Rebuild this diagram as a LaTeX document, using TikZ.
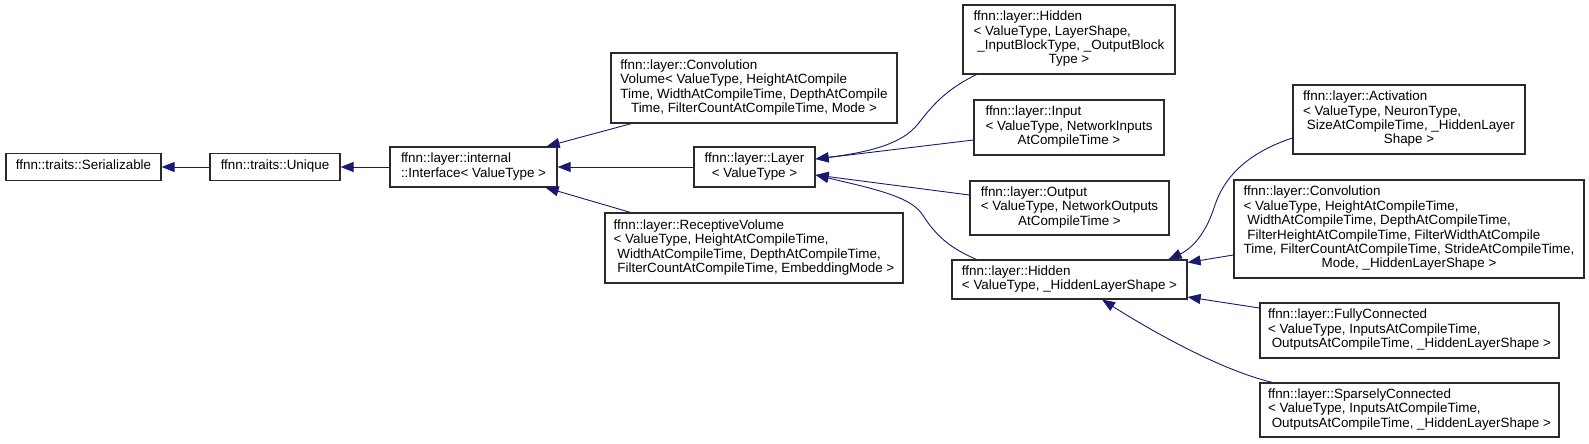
\documentclass[tikz,border=0pt]{standalone}
\usepackage{fontspec}
\setmainfont{Liberation Sans}
\usepackage{xcolor}
\definecolor{midnight}{HTML}{191970}
\definecolor{ink}{HTML}{2A2A2A}
\usetikzlibrary{arrows.meta}
\newcommand{\cls}[1]{\begin{tabular}{@{}l@{}}#1\end{tabular}}
\newcommand{\ctr}[1]{\multicolumn{1}{@{}c@{}}{#1}}
\tikzset{
  >={Triangle[length=13pt,width=10pt]},
  klass/.style={draw=ink,fill=white,line width=1.2pt,inner sep=0pt,
    font=\fontsize{13.4}{14.4}\selectfont},
  inh/.style={->,draw=midnight,line width=0.9pt},
}

\begin{document}
\begin{tikzpicture}[x=1pt,y=-1pt]
  \useasboundingbox (0,0) rectangle (1589,444);
  % base classes
  \node[klass,minimum width=155pt,minimum height=27pt] (ser) at (83.5,167) {\cls{ffnn::traits::Serializable}};
  \node[klass,minimum width=130pt,minimum height=27pt] (uniq) at (275,167) {\cls{ffnn::traits::Unique}};
  \node[klass,minimum width=167pt,minimum height=40pt] (iface) at (473.5,167) {\cls{ffnn::layer::internal\\::Interface< ValueType >}};
  % second level
  \node[klass,minimum width=286pt,minimum height=70pt] (convvol) at (754,88) {\cls{ffnn::layer::Convolution\\Volume< ValueType, HeightAtCompile\\Time, WidthAtCompileTime, DepthAtCompile\\\ctr{Time, FilterCountAtCompileTime, Mode >}}};
  \node[klass,minimum width=121pt,minimum height=40pt] (layer) at (754.5,167) {\cls{ffnn::layer::Layer\\\ctr{< ValueType >}}};
  \node[klass,minimum width=298pt,minimum height=70pt] (recept) at (754,248) {\cls{ffnn::layer::ReceptiveVolume\\< ValueType, HeightAtCompileTime,\\\ WidthAtCompileTime, DepthAtCompileTime,\\\ FilterCountAtCompileTime, EmbeddingMode >}};
  % layers
  \node[klass,minimum width=212pt,minimum height=69pt] (hidtop) at (1069,39.5) {\cls{ffnn::layer::Hidden\\< ValueType, LayerShape,\\\ \_InputBlockType, \_OutputBlock\\\ctr{Type >}}};
  \node[klass,minimum width=190pt,minimum height=55pt] (input) at (1069,127.5) {\cls{ffnn::layer::Input\\< ValueType, NetworkInputs\\\ctr{AtCompileTime >}}};
  \node[klass,minimum width=199pt,minimum height=54pt] (output) at (1069.5,208) {\cls{ffnn::layer::Output\\< ValueType, NetworkOutputs\\\ctr{AtCompileTime >}}};
  \node[klass,minimum width=235pt,minimum height=39pt] (hid) at (1069.5,279.5) {\cls{ffnn::layer::Hidden\\< ValueType, \_HiddenLayerShape >}};
  % hidden layers
  \node[klass,minimum width=232pt,minimum height=69pt] (act) at (1409,119.5) {\cls{ffnn::layer::Activation\\< ValueType, NeuronType,\\\ SizeAtCompileTime, \_HiddenLayer\\\ctr{Shape >}}};
  \node[klass,minimum width=350pt,minimum height=98pt] (conv) at (1409,229) {\cls{ffnn::layer::Convolution\\< ValueType, HeightAtCompileTime,\\\ WidthAtCompileTime, DepthAtCompileTime,\\\ FilterHeightAtCompileTime, FilterWidthAtCompile\\Time, FilterCountAtCompileTime, StrideAtCompileTime,\\\ctr{Mode, \_HiddenLayerShape >}}};
  \node[klass,minimum width=299pt,minimum height=55pt] (fc) at (1409.5,330.5) {\cls{ffnn::layer::FullyConnected\\< ValueType, InputsAtCompileTime,\\\ OutputsAtCompileTime, \_HiddenLayerShape >}};
  \node[klass,minimum width=299pt,minimum height=54pt] (sc) at (1409.5,410) {\cls{ffnn::layer::SparselyConnected\\< ValueType, InputsAtCompileTime,\\\ OutputsAtCompileTime, \_HiddenLayerShape >}};
  % inheritance
  \draw[inh] (uniq) -- (ser);
  \draw[inh] (iface) -- (uniq);
  \draw[inh] ([xshift=21pt]convvol.south west) -- ([xshift=-11pt]iface.north east);
  \draw[inh] (layer) -- (iface);
  \draw[inh] ([xshift=26pt]recept.north west) -- ([xshift=-12pt]iface.south east);
  \draw[inh] ([xshift=14pt]hidtop.south west) .. controls (945,90) and (932,106) .. (918,124) .. controls (902,144) and (870,152) .. ([yshift=8pt]layer.east);
  \draw[inh] ([yshift=-12.5pt]input.west) -- ([yshift=8pt]layer.east);
  \draw[inh] ([yshift=13pt]output.west) -- ([yshift=-8pt]layer.east);
  \draw[inh] ([xshift=25pt]hid.north west) .. controls (950,248) and (936,236) .. (922,214) .. controls (910,196) and (870,188) .. ([yshift=-8pt]layer.east);
  \draw[inh] ([yshift=-18.5pt]act.west) .. controls (1250,152) and (1225,175) .. (1215,205) .. controls (1207,230) and (1195,247) .. ([xshift=-19pt]hid.north east);
  \draw[inh] ([yshift=-26pt]conv.west) -- ([yshift=17pt]hid.east);
  \draw[inh] ([yshift=22.5pt]fc.west) -- ([yshift=-17.5pt]hid.east);
  \draw[inh] ([xshift=13pt]sc.north west) .. controls (1220,370) and (1150,330) .. ([xshift=32.5pt]hid.south);
\end{tikzpicture}
\end{document}
